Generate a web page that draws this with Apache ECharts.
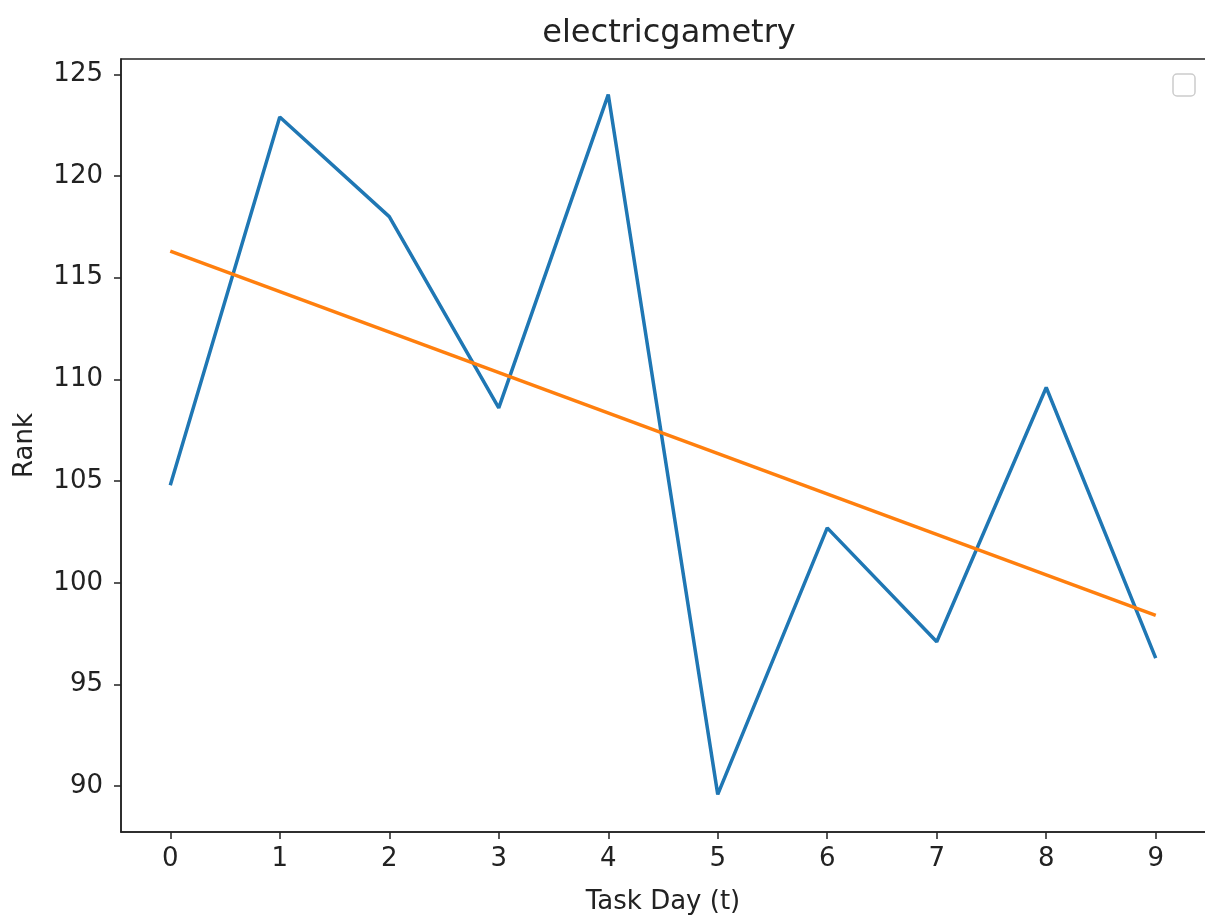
<!DOCTYPE html>
<html>
<head>
<meta charset="utf-8">
<style>
  html, body { margin: 0; padding: 0; background: #fff; }
  #chart { width: 1205px; height: 923px; }
</style>
<script src="https://cdn.jsdelivr.net/npm/echarts@6/dist/echarts.min.js"></script>
</head>
<body>
<div id="chart"></div>
<script>
// values
const days = [0, 1, 2, 3, 4, 5, 6, 7, 8, 9];
const rank = [104.8, 122.9, 118.0, 108.6, 124.0, 89.6, 102.7, 97.1, 109.6, 96.3];
// trend line end points
const trendDays = [0, 9];
const trendRank = [116.3, 98.4];
const yTicks = [90, 95, 100, 105, 110, 115, 120, 125];

const font = 'DejaVu Sans';
const chart = echarts.init(document.getElementById('chart'));

chart.setOption({
  animation: false,
  backgroundColor: '#fff',
  title: {
    text: 'electricgametry',
    left: 664, top: 13, textAlign: 'center',
    textStyle: { fontFamily: font, fontSize: 32, fontWeight: 'normal', color: '#222' }
  },
  grid: { left: 121, right: -4, top: 59, bottom: 91 },
  xAxis: {
    type: 'value', min: -0.45, max: 9.45,
    name: 'Task Day (t)', nameLocation: 'middle', nameGap: 57,
    nameTextStyle: { fontFamily: font, fontSize: 26, color: '#222' },
    axisLine: { onZero: false, lineStyle: { color: '#222', width: 1.5 } },
    axisTick: { show: true, length: 7, lineStyle: { color: '#222', width: 1.5 }, customValues: days },
    axisLabel: { fontFamily: font, fontSize: 26, color: '#222', margin: 14, customValues: days },
    splitLine: { show: false }
  },
  yAxis: {
    type: 'value', min: 87.75, max: 125.75,
    name: 'Rank', nameLocation: 'middle', nameGap: 83,
    nameTextStyle: { fontFamily: font, fontSize: 26, color: '#222' },
    axisLine: { show: true, onZero: false, lineStyle: { color: '#222', width: 1.5 } },
    axisTick: { show: true, length: 7, lineStyle: { color: '#222', width: 1.5 }, customValues: yTicks },
    axisLabel: { fontFamily: font, fontSize: 26, color: '#222', margin: 18, customValues: yTicks },
    splitLine: { show: false }
  },
  graphic: [
    { type: 'rect', shape: { x: 121, y: 59, width: 1090, height: 773 },
      style: { fill: 'none', stroke: '#222', lineWidth: 1.5 }, silent: true },
    { type: 'rect', shape: { x: 1173, y: 74, width: 22, height: 22, r: 4 },
      style: { fill: '#fff', stroke: '#ccc', lineWidth: 1.5 }, silent: true }
  ],
  series: [
    {
      type: 'line', data: days.map((d, i) => [d, rank[i]]),
      showSymbol: false, lineStyle: { color: '#1f77b4', width: 3.5 }, itemStyle: { color: '#1f77b4' }
    },
    {
      type: 'line', data: trendDays.map((d, i) => [d, trendRank[i]]),
      showSymbol: false, lineStyle: { color: '#ff7f0e', width: 3.5 }, itemStyle: { color: '#ff7f0e' }
    }
  ]
});
</script>
</body>
</html>
